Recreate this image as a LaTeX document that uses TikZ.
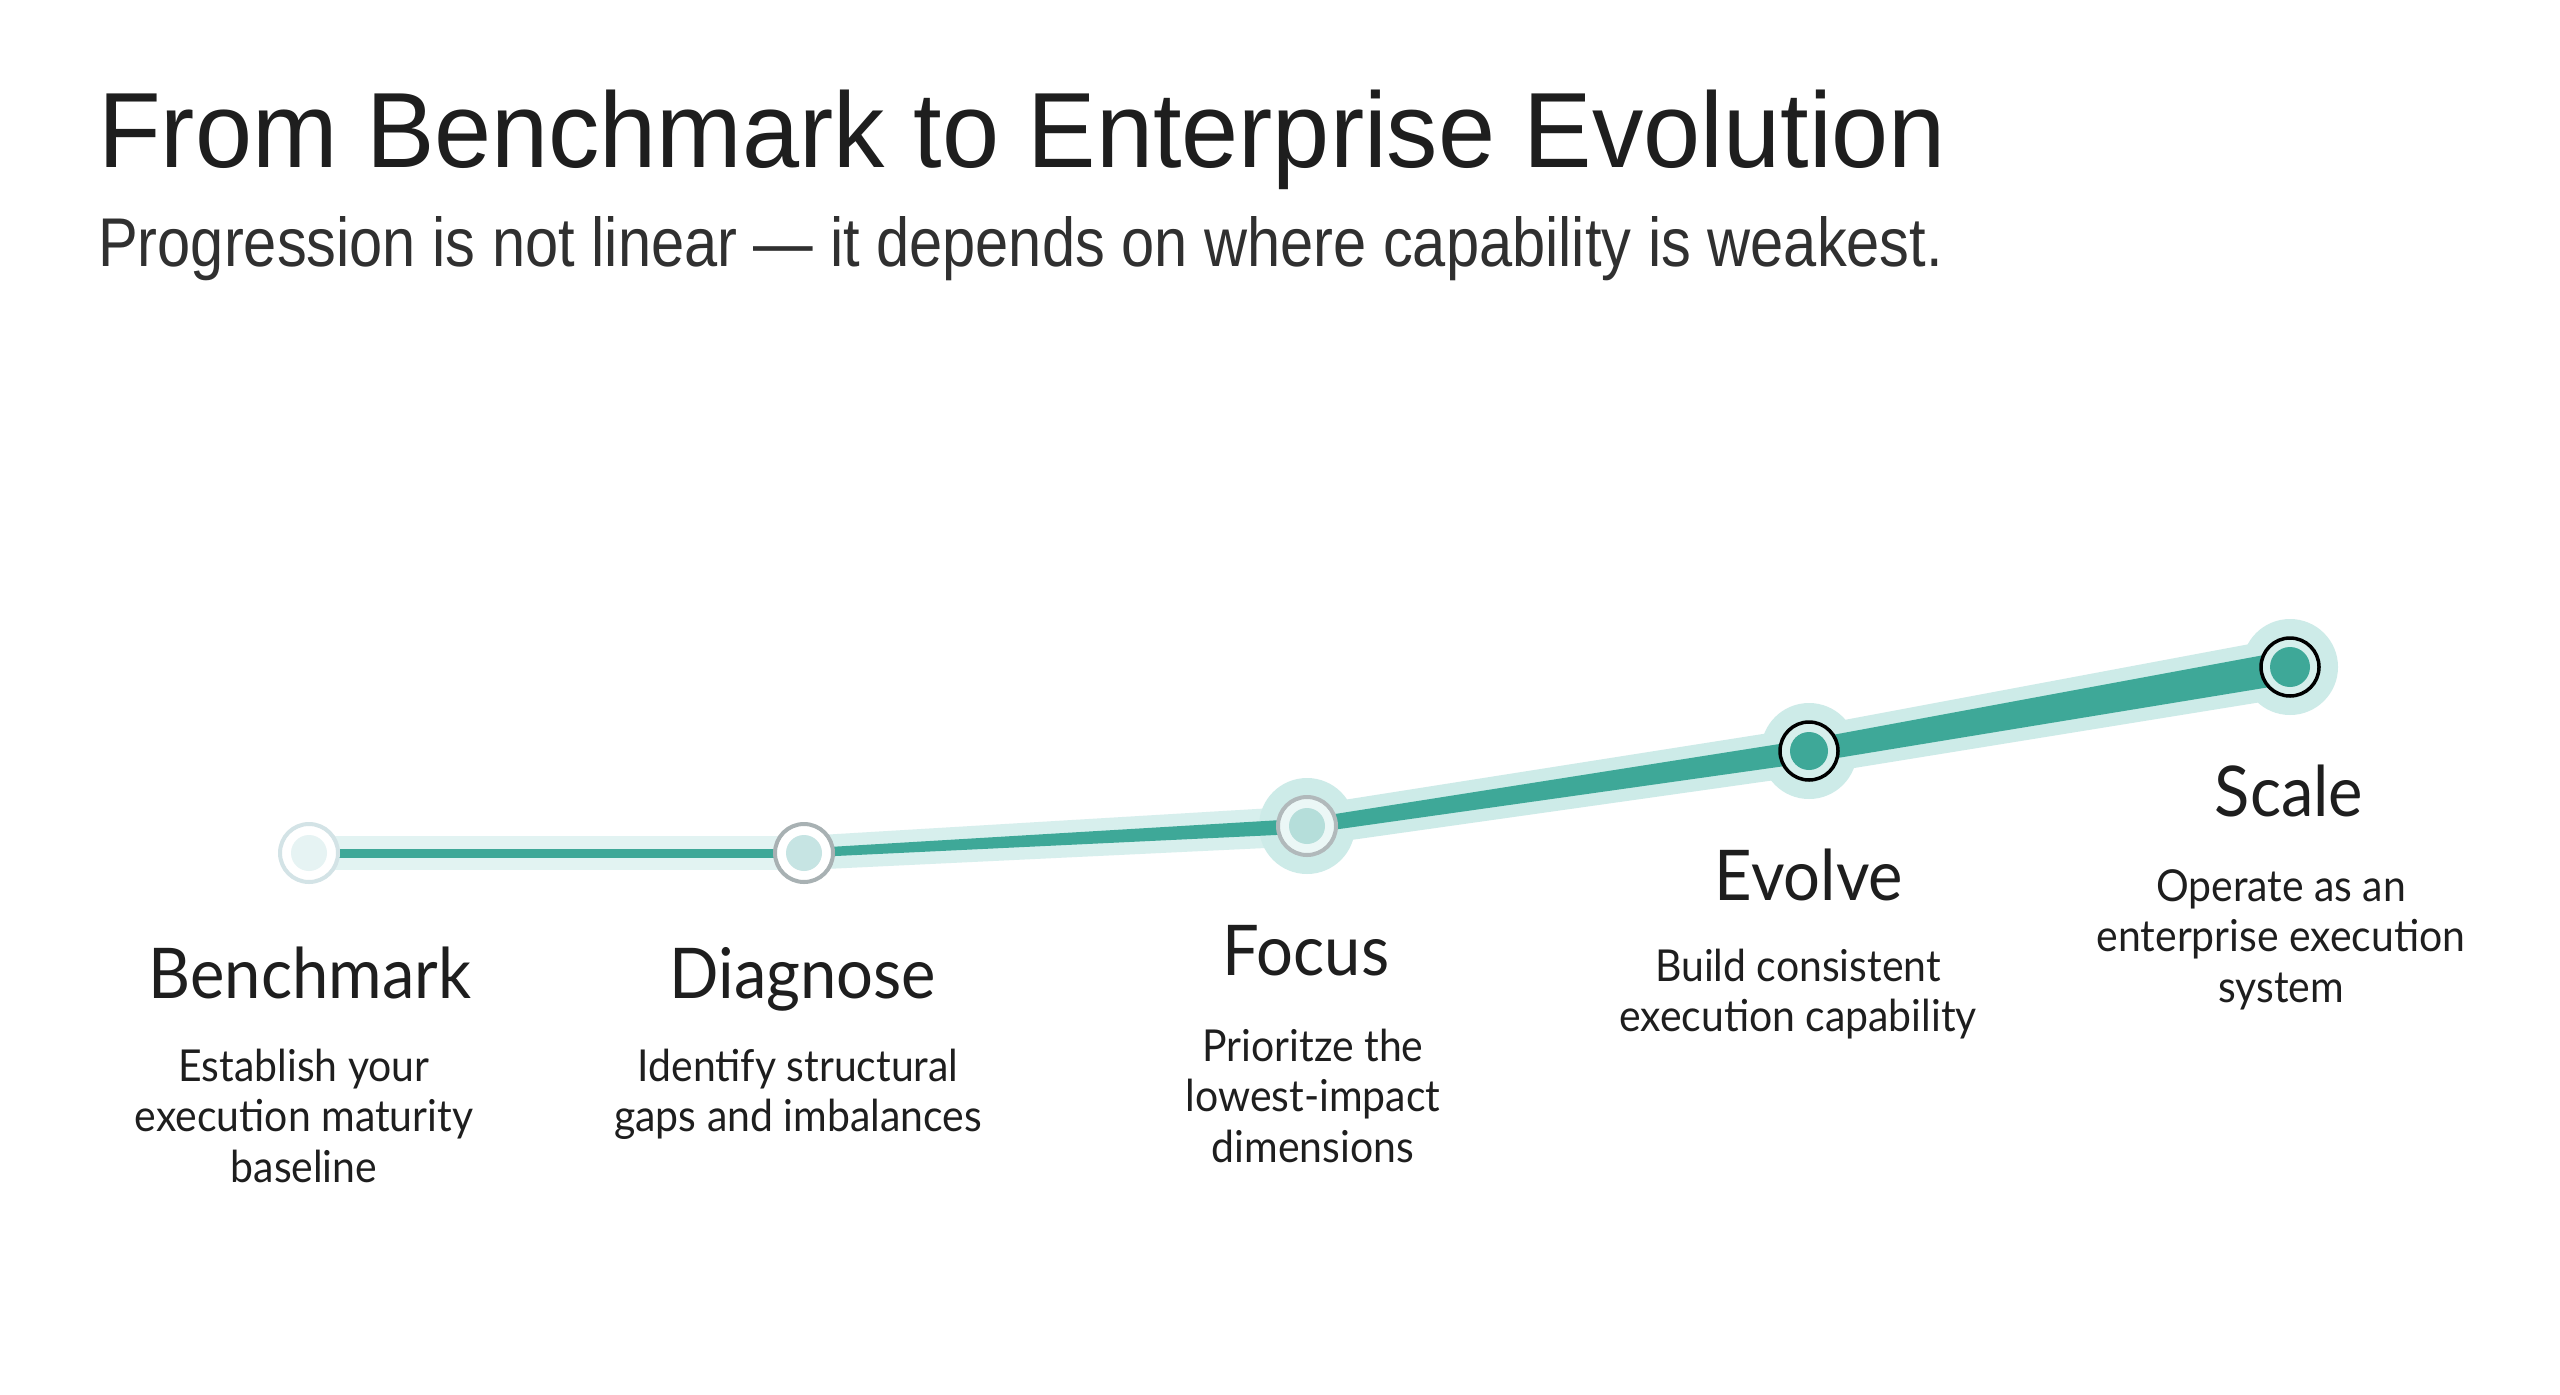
\documentclass[tikz,border=0pt]{standalone}
\usepackage{fontspec}
\usepackage{graphicx}
\setmainfont{Lato}[FakeStretch=0.93]
\newfontfamily\headfont{Liberation Sans}
\usetikzlibrary{calc}
\definecolor{tealmain}{HTML}{3EA898}
\definecolor{halo}{HTML}{CDEBE8}
\definecolor{halolt}{HTML}{E2F3F2}
\definecolor{ringlt}{HTML}{D3E3E6}
\definecolor{ringgrey}{HTML}{A8B1B3}
\definecolor{dotlt}{HTML}{E6F3F3}
\definecolor{dotmid}{HTML}{C6E4E3}
\definecolor{dotfocus}{HTML}{B5DEDA}
\definecolor{gapfill}{HTML}{D6EFEC}
\definecolor{inkdark}{HTML}{1E1E1E}
\newcommand\taperseg[5]{%
  \fill[#5] ($(#1)!#3!90:(#2)$) -- ($(#2)!#4!-90:(#1)$) -- ($(#2)!#4!90:(#1)$) -- ($(#1)!#3!-90:(#2)$) -- cycle;}
\tikzset{
  haloc/.style={circle, fill=halo, minimum size=96pt, inner sep=0pt},
  ringbox/.style={circle, line width=4pt, minimum size=58pt, inner sep=0pt},
  dotbox/.style={circle, minimum size=36pt, inner sep=0pt},
  stagename/.style={anchor=base, inner sep=0pt, text=inkdark, font=\fontsize{70}{80}\selectfont},
  stagedesc/.style={anchor=base, inner sep=0pt, text=inkdark, font=\fontsize{44}{50.6}\selectfont},
}
\begin{document}
\begin{tikzpicture}[x=1pt,y=-1pt]
\useasboundingbox (0,0) rectangle (2560,1395);
\fill[white] (0,0) rectangle (2560,1395);

% title
\node[anchor=base west, inner sep=0pt, text=inkdark] (title) at (98,167)
  {\resizebox{1848pt}{\height}{\headfont\fontsize{107}{120}\selectfont From Benchmark to Enterprise Evolution}};
\node[anchor=base west, inner sep=0pt, text=inkdark!92] (subtitle) at (98,266)
  {\resizebox{1845pt}{\height}{\headfont\fontsize{69}{80}\selectfont Progression is not linear — it depends on where capability is weakest.}};

% path coordinates
\coordinate (b) at (309,853);
\coordinate (d) at (804,853);
\coordinate (f) at (1307,826);
\coordinate (e) at (1809,751);
\coordinate (s) at (2290,667);

% halos
\taperseg{b}{d}{17pt}{17pt}{halolt}
\taperseg{d}{f}{17pt}{20pt}{halo!80}
\taperseg{f}{e}{20pt}{24pt}{halo}
\taperseg{e}{s}{24pt}{30pt}{halo}
\node[haloc] (hf) at (f) {};
\node[haloc] (he) at (e) {};
\node[haloc] (hs) at (s) {};
% main line
\taperseg{b}{d}{4.5pt}{4.5pt}{tealmain}
\taperseg{d}{f}{4.5pt}{7.5pt}{tealmain}
\taperseg{f}{e}{7.5pt}{11.5pt}{tealmain}
\taperseg{e}{s}{11.5pt}{16.5pt}{tealmain}

% markers
\node[ringbox, draw=ringlt, fill=white] (nb) at (b) {};
\node[dotbox, fill=dotlt] (db) at (b) {};
\node[ringbox, draw=ringgrey, fill=white] (nd) at (d) {};
\node[dotbox, fill=dotmid] (dd) at (d) {};
\node[ringbox, draw=ringgrey!90, fill=white!60!halo] (nf) at (f) {};
\node[dotbox, fill=dotfocus] (df) at (f) {};
\node[ringbox, line width=3.5pt, draw=black, fill=gapfill] (ne) at (e) {};
\node[dotbox, minimum size=38pt, fill=tealmain] (de) at (e) {};
\node[ringbox, line width=3.5pt, draw=black, fill=gapfill] (ns) at (s) {};
\node[dotbox, minimum size=40pt, fill=tealmain] (ds) at (s) {};

% labels
\node[stagename] (lb) at (310,998) {Benchmark};
\node[stagedesc] (tb) at (304,1081) {\begin{tabular}[t]{@{}c@{}}Establish your\\execution maturity\\baseline\end{tabular}};
\node[stagename] (ld) at (803,998) {Diagnose};
\node[stagedesc] (td) at (798,1081) {\begin{tabular}[t]{@{}c@{}}Identify structural\\gaps and imbalances\end{tabular}};
\node[stagename] (lf) at (1306,975) {Focus};
\node[stagedesc] (tf) at (1313,1061) {\begin{tabular}[t]{@{}c@{}}Prioritze the\\lowest-impact\\dimensions\end{tabular}};
\node[stagename] (le) at (1809,900) {Evolve};
\node[stagedesc] (te) at (1798,981) {\begin{tabular}[t]{@{}c@{}}Build consistent\\execution capability\end{tabular}};
\node[stagename] (ls) at (2289,816) {Scale};
\node[stagedesc] (ts) at (2281,901) {\begin{tabular}[t]{@{}c@{}}Operate as an\\enterprise execution\\system\end{tabular}};
\end{tikzpicture}
\end{document}
